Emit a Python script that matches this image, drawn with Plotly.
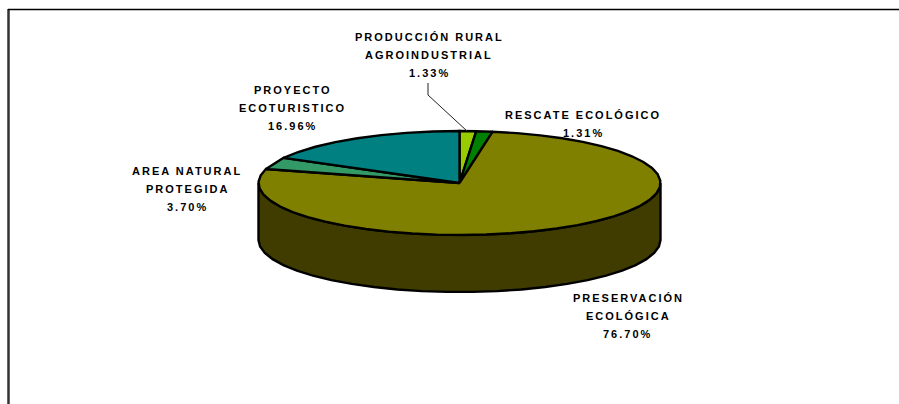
import numpy as np
import plotly.graph_objects as go

# Data
categories = ["PRODUCCIÓN RURAL AGROINDUSTRIAL", "RESCATE ECOLÓGICO", "PRESERVACIÓN ECOLÓGICA",
              "AREA NATURAL PROTEGIDA", "PROYECTO ECOTURISTICO"]
values = [1.33, 1.31, 76.70, 3.70, 16.96]
colors = ["#99CC00", "#008000", "#808000", "#339966", "#008080"]
wall_color = "#403C00"
label_lines = [
    ["PRODUCCIÓN RURAL", "AGROINDUSTRIAL", "1.33%"],
    ["RESCATE ECOLÓGICO", "1.31%"],
    ["PRESERVACIÓN", "ECOLÓGICA", "76.70%"],
    ["AREA NATURAL", "PROTEGIDA", "3.70%"],
    ["PROYECTO", "ECOTURISTICO", "16.96%"],
]
label_x = [429, 583, 628, 187, 293]
label_y = [37, 115, 298, 171, 90]
LINE_PITCH = 18.2

# Pie geometry (pixel space)
CX, CY, RX, RY, DEPTH = 459.5, 183, 201, 52, 57


def rim(a0, a1):
    n = max(2, int((a1 - a0) / 7) + 1)
    a = np.radians(np.linspace(a0, a1, n))
    return CX + RX * np.sin(a), CY - RY * np.cos(a)


fig = go.Figure()

# Side wall (front half of the rim)
xs, ys = rim(90, 270)
wx = list(xs) + list(xs[::-1])
wy = list(ys) + list((ys + DEPTH)[::-1])
fig.add_trace(go.Scatter(
    x=wx + wx[:1], y=wy + wy[:1],
    mode="lines", fill="toself", fillcolor=wall_color,
    line=dict(color="black", width=2.4), hoverinfo="skip", showlegend=False))

# Top slices, clockwise from 12 o'clock
total = sum(values)
start = 0.0
for name, v, c in zip(categories, values, colors):
    end = start + v / total * 360
    xs, ys = rim(start, end)
    fig.add_trace(go.Scatter(
        x=[CX] + list(xs) + [CX], y=[CY] + list(ys) + [CY],
        mode="lines", fill="toself", fillcolor=c, name=name,
        line=dict(color="black", width=2.4), showlegend=False))
    start = end

# Leader line
fig.add_trace(go.Scatter(x=[428, 428, 467], y=[83, 95, 131], mode="lines",
                         line=dict(color="#222222", width=1), hoverinfo="skip", showlegend=False))

annotations = []
for lines, lx, ly in zip(label_lines, label_x, label_y):
    for i, t in enumerate(lines):
        annotations.append(dict(
            x=lx, y=ly + i * LINE_PITCH, xref="x", yref="y", text=f"<b>{t}</b>",
            showarrow=False, xanchor="center", yanchor="middle",
            font=dict(family="Liberation Sans", size=11, color="black")))

fig.update_layout(
    width=899, height=404, margin=dict(l=0, r=0, t=0, b=0),
    paper_bgcolor="white", plot_bgcolor="white", annotations=annotations,
    xaxis=dict(range=[0, 899], visible=False, fixedrange=True),
    yaxis=dict(range=[404, 0], visible=False, fixedrange=True),
    shapes=[
        dict(type="line", xref="x", yref="y", x0=8.5, x1=8.5, y0=9, y1=404, line=dict(color="#333333", width=2.5)),
        dict(type="line", xref="x", yref="y", x0=8, x1=899, y0=9.5, y1=9.5, line=dict(color="black", width=1.5)),
    ],
)

page_js = """
document.body.style.margin='0';
document.body.style.overflow='hidden';
document.querySelectorAll('.annotation-text').forEach(function(t){
  t.setAttribute('letter-spacing','2px');
  t.style.letterSpacing='2px';
});
"""
fig.write_html("out.html", post_script=page_js, config=dict(displayModeBar=False))
